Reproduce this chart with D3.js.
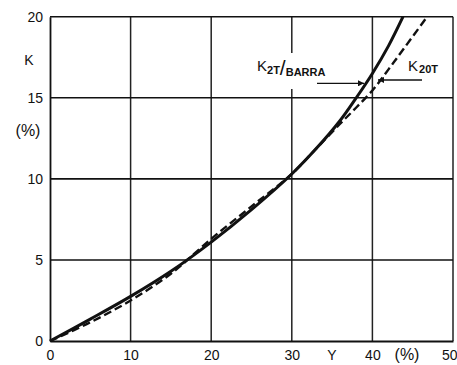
<!DOCTYPE html>
<html><head><meta charset="utf-8">
<script src="https://cdn.jsdelivr.net/npm/d3@7"></script>
<style>
html,body{margin:0;padding:0;background:#fff;}
svg text{font-family:"Liberation Sans",Arial,Helvetica,sans-serif;fill:#111;}
</style></head>
<body><svg id="c" width="457" height="365"></svg>
<script>
// Data
const xTicks = [0, 10, 20, 30, 40, 50];
const yTicks = [0, 5, 10, 15, 20];
const solidX = [0, 5, 10, 15, 20, 25, 30, 33, 36, 38, 40, 42, 43.8];
const solidY = [0, 1.35, 2.75, 4.3, 6.1, 8.1, 10.3, 11.85, 13.6, 15.0, 16.5, 18.2, 20];
const dashX = [0, 5, 10, 15, 20, 25, 30, 33, 36, 38, 40, 42, 44, 46.8];
const dashY = [0, 1.15, 2.5, 4.15, 6.3, 8.3, 10.3, 11.85, 13.4, 14.4, 15.45, 16.75, 18.1, 20];
const seriesNames = ["K2T/BARRA", "K20T"];

const svg = d3.select("#c");
const x = d3.scaleLinear().domain([0, 50]).range([50, 453]);
const y = d3.scaleLinear().domain([0, 20]).range([341, 16.7]);

// grid
const g = svg.append("g");
g.selectAll("line.v").data(xTicks.slice(1)).join("line")
  .attr("x1", d => x(d)).attr("x2", d => x(d)).attr("y1", y(0)).attr("y2", y(20))
  .attr("stroke", "#222").attr("stroke-width", 1.5);
g.selectAll("line.h").data(yTicks.slice(1)).join("line")
  .attr("x1", x(0)).attr("x2", x(50)).attr("y1", d => y(d)).attr("y2", d => y(d))
  .attr("stroke", "#111").attr("stroke-width", 1.6);

// axes
const xAxis = d3.axisBottom(x).tickValues(xTicks).tickSize(0).tickPadding(7).tickFormat(d3.format("d"));
const yAxis = d3.axisLeft(y).tickValues(yTicks).tickSize(0).tickPadding(7).tickFormat(d3.format("d"));
const ax = svg.append("g").attr("transform", `translate(0,${y(0)})`).call(xAxis);
ax.select(".domain").attr("stroke", "#111").attr("stroke-width", 2.2);
ax.selectAll("text").attr("font-size", 14).attr("fill", "#111").attr("dy", "0.85em")
  .filter(d => d === 50).attr("text-anchor", "end").attr("dx", 4);
const ay = svg.append("g").attr("transform", `translate(${x(0)},0)`).call(yAxis);
ay.select(".domain").attr("stroke", "#111").attr("stroke-width", 1.8);
ay.selectAll("text").attr("font-size", 14).attr("fill", "#111");

// axis titles
svg.append("text").attr("x", 29).attr("y", 65).attr("text-anchor", "middle").attr("font-size", 14).text("K");
svg.append("text").attr("x", 28).attr("y", 136).attr("text-anchor", "middle").attr("font-size", 16).text("(%)");
svg.append("text").attr("x", 332).attr("y", 360).attr("text-anchor", "middle").attr("font-size", 14).text("Y");
svg.append("text").attr("x", 407).attr("y", 360).attr("text-anchor", "middle").attr("font-size", 16).text("(%)");

// curves
const line = d3.line().x(d => x(d[0])).y(d => y(d[1])).curve(d3.curveCatmullRom.alpha(0.5));
const solidData = solidX.map((v, i) => [v, solidY[i]]);
const dashData = dashX.map((v, i) => [v, dashY[i]]);
svg.append("path").datum(dashData).attr("d", line).attr("fill", "none")
  .attr("stroke", "#111").attr("stroke-width", 2.4).attr("stroke-dasharray", "8,4");
svg.append("path").datum(solidData).attr("d", line).attr("fill", "none")
  .attr("stroke", "#111").attr("stroke-width", 3);

// labels
svg.append("rect").attr("x", 255).attr("y", 53).attr("width", 88).attr("height", 36).attr("fill", "#fff");
const l1 = svg.append("text").attr("x", 257).attr("y", 71).attr("font-size", 15);
l1.append("tspan").text("K");
l1.append("tspan").attr("font-size", 11).attr("font-weight", "bold").attr("dy", 3).text("2T");
l1.append("tspan").attr("font-size", 21).attr("dy", 1).text("/");
l1.append("tspan").attr("font-size", 11).attr("font-weight", "bold").attr("dy", 1).text("BARRA");
const l2 = svg.append("text").attr("x", 408).attr("y", 71).attr("font-size", 15);
l2.append("tspan").text("K");
l2.append("tspan").attr("font-size", 11).attr("font-weight", "bold").attr("dy", 2).attr("dx", 1).text("20T");

// arrows
const defs = svg.append("defs");
defs.append("marker").attr("id", "ah").attr("viewBox", "0 0 10 10").attr("refX", 10).attr("refY", 5)
  .attr("markerWidth", 9).attr("markerHeight", 6).attr("markerUnits", "userSpaceOnUse").attr("orient", "auto")
  .append("path").attr("d", "M0,0L10,5L0,10z").attr("fill", "#111");
svg.append("line").attr("x1", 317).attr("y1", 83.3).attr("x2", 364).attr("y2", 83.3)
  .attr("stroke", "#111").attr("stroke-width", 1.3).attr("marker-end", "url(#ah)");
svg.append("line").attr("x1", 422).attr("y1", 80).attr("x2", 378).attr("y2", 80)
  .attr("stroke", "#111").attr("stroke-width", 1.3).attr("marker-end", "url(#ah)");
</script></body></html>
